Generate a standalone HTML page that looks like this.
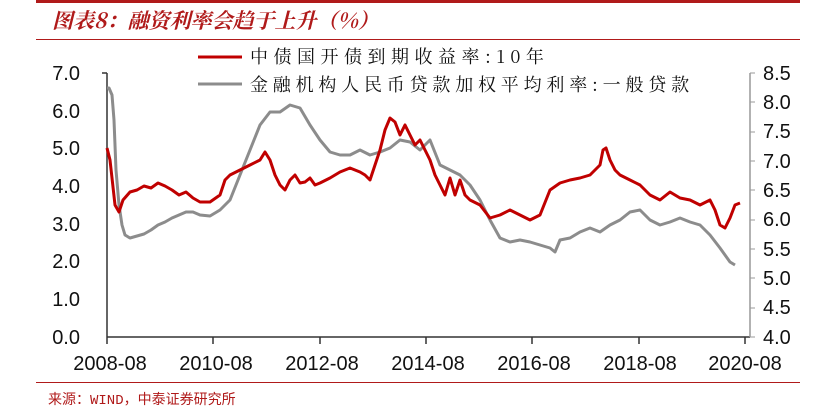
<!DOCTYPE html><html><head><meta charset="utf-8"><style>
body{margin:0;background:#fff;width:834px;height:414px;overflow:hidden;font-family:"Liberation Sans","Noto Sans CJK SC",sans-serif}
</style></head><body>
<svg width="834" height="414" xmlns="http://www.w3.org/2000/svg" font-family="Liberation Sans, Noto Sans CJK SC, sans-serif">
<rect x="36" y="0" width="764" height="3" fill="#b01a1a"/>
<text x="52" y="28" font-size="21" font-style="italic" font-weight="bold" fill="#b01a1a" font-family="Noto Serif CJK SC, serif">图表8：融资利率会趋于上升（%）</text>
<line x1="36" y1="39.5" x2="800" y2="39.5" stroke="#b01a1a" stroke-width="1"/>
<line x1="198" y1="57" x2="242" y2="57" stroke="#c00000" stroke-width="3"/>
<text x="250" y="63" font-size="18" letter-spacing="5.5" fill="#111" font-family="Noto Serif CJK SC, serif">中债国开债到期收益率:10年</text>
<line x1="198" y1="84" x2="242" y2="84" stroke="#8c8c8c" stroke-width="3"/>
<text x="250" y="91" font-size="18" letter-spacing="4.8" fill="#111" font-family="Noto Serif CJK SC, serif">金融机构人民币贷款加权平均利率:一般贷款</text>
<g stroke="#333" stroke-width="1.5" fill="none">
<line x1="107" y1="73" x2="107" y2="337"/><line x1="107" y1="337" x2="750" y2="337"/>
<line x1="102" y1="73" x2="107" y2="73"/>
</g>
<line x1="750" y1="73" x2="750" y2="337" stroke="#999" stroke-width="1.5"/>
<g font-size="20" fill="#111" text-anchor="end">
<text x="80" y="80">7.0</text><text x="80" y="118">6.0</text><text x="80" y="155">5.0</text><text x="80" y="193">4.0</text><text x="80" y="231">3.0</text><text x="80" y="268">2.0</text><text x="80" y="306">1.0</text><text x="80" y="344">0.0</text>
</g>
<g font-size="20" fill="#111">
<text x="763" y="80">8.5</text><text x="763" y="109">8.0</text><text x="763" y="138">7.5</text><text x="763" y="168">7.0</text><text x="763" y="197">6.5</text><text x="763" y="226">6.0</text><text x="763" y="256">5.5</text><text x="763" y="285">5.0</text><text x="763" y="314">4.5</text><text x="763" y="344">4.0</text>
</g>
<g stroke="#999"><line x1="750" y1="73" x2="755" y2="73"/><line x1="750" y1="102" x2="755" y2="102"/><line x1="750" y1="132" x2="755" y2="132"/><line x1="750" y1="161" x2="755" y2="161"/><line x1="750" y1="190" x2="755" y2="190"/><line x1="750" y1="220" x2="755" y2="220"/><line x1="750" y1="249" x2="755" y2="249"/><line x1="750" y1="278" x2="755" y2="278"/><line x1="750" y1="308" x2="755" y2="308"/><line x1="750" y1="337" x2="755" y2="337"/></g>
<g stroke="#333" stroke-width="1.5"><line x1="107" y1="337" x2="107" y2="344"/><line x1="213" y1="337" x2="213" y2="344"/><line x1="320" y1="337" x2="320" y2="344"/><line x1="426" y1="337" x2="426" y2="344"/><line x1="532" y1="337" x2="532" y2="344"/><line x1="639" y1="337" x2="639" y2="344"/><line x1="745" y1="337" x2="745" y2="344"/></g>
<g font-size="20" fill="#111" text-anchor="middle">
<text x="110" y="370">2008-08</text><text x="216" y="370">2010-08</text><text x="322" y="370">2012-08</text><text x="428" y="370">2014-08</text><text x="534" y="370">2016-08</text><text x="640" y="370">2018-08</text><text x="745" y="370">2020-08</text>
</g>
<polyline fill="none" stroke="#8c8c8c" stroke-width="3" stroke-linejoin="round" points="107,88 109,88 112,95 114,120 116,170 119,205 122,225 125,235 130,238 137,236 144,234 151,230 158,225 165,222 172,218 179,215 186,212 193,212 200,215 210,216 220,210 230,200 240,175 250,150 260,125 270,112 280,112 290,105 300,108 310,125 320,140 330,152 340,155 350,155 360,150 370,155 380,152 390,148 400,140 410,142 420,150 430,140 440,165 450,170 460,175 470,185 480,200 490,220 500,238 510,242 520,240 530,242 540,245 550,248 555,252 560,240 570,238 580,232 590,228 600,232 610,225 620,220 630,212 640,210 650,220 660,225 670,222 680,218 690,222 700,225 710,235 720,248 730,262 735,265"/>
<polyline fill="none" stroke="#c00000" stroke-width="3" stroke-linejoin="round" points="107,148 110,160 115,205 119,212 123,200 130,192 137,190 144,186 151,188 158,183 165,186 172,190 179,195 186,192 193,198 200,202 210,202 220,195 225,180 230,175 240,170 250,165 260,160 265,152 270,160 275,175 280,185 285,190 290,180 295,175 300,183 305,182 310,178 315,185 320,183 330,178 340,172 350,168 360,172 365,175 370,180 375,165 380,150 385,130 390,118 395,122 400,135 405,125 410,135 415,145 420,140 425,150 430,160 435,175 440,185 445,195 450,178 455,195 460,180 465,195 470,200 480,205 490,218 500,215 510,210 520,215 530,220 540,215 550,190 560,183 570,180 580,178 590,175 600,165 603,150 606,148 610,160 615,170 620,175 630,180 640,185 650,195 660,200 670,192 680,198 690,200 700,205 710,200 715,210 720,225 725,228 730,218 735,205 740,203"/>
<line x1="36" y1="382.5" x2="800" y2="382.5" stroke="#b01a1a" stroke-width="1"/>
<text x="48" y="404" font-size="14" fill="#b01a1a" font-family="Liberation Mono, Noto Sans CJK SC, monospace">来源：WIND，中泰证券研究所</text>
</svg>
</body></html>
